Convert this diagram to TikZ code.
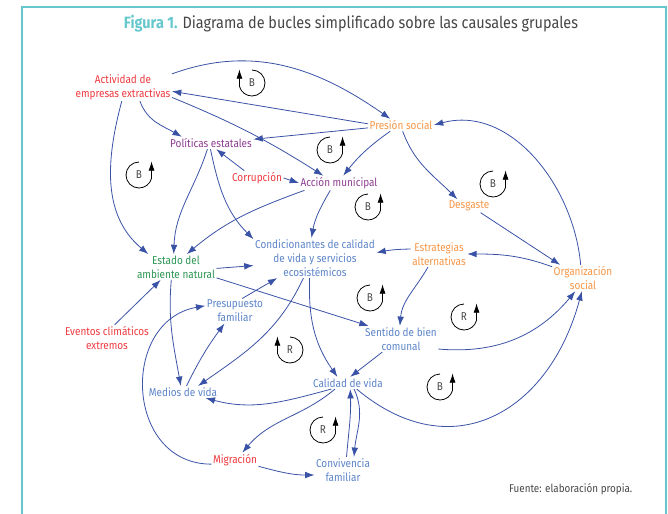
\documentclass[tikz,border=0pt]{standalone}
\usepackage{fontspec}
\setmainfont{Fira Sans}[FakeStretch=0.88]
\usetikzlibrary{arrows.meta}
\definecolor{turquoise}{RGB}{100,200,205}
\definecolor{rouge}{RGB}{238,58,64}
\definecolor{orangec}{RGB}{246,150,72}
\definecolor{violetc}{RGB}{142,62,146}
\definecolor{vert}{RGB}{44,150,84}
\definecolor{bleuc}{RGB}{92,132,200}
\definecolor{bleuf}{RGB}{58,82,166}
\definecolor{gris}{RGB}{70,70,70}
\tikzset{
  var/.style={inner sep=1pt,align=center,font=\fontsize{8.5}{10.5}\selectfont},
  fl/.style={draw=bleuf,line width=0.6pt,-{Latex[length=7pt,width=5pt]}},
  boucle/.style={line width=0.6pt,-{Latex[length=7pt,width=4.5pt]}}
}
% marqueur de boucle : position, lettre, sens (1 ou -1), nom
\newcommand{\bucle}[4]{%
  \begin{scope}[shift={#1},xscale=#3]
    \draw[boucle] (0,13) arc[start angle=90,end angle=345,radius=13] -- ++(0,17);
    \node[font=\fontsize{8.5}{8.5}\selectfont,text=gris] (#4) at (0,0) {#2};
  \end{scope}}
\begin{document}
\begin{tikzpicture}[x=0.75pt,y=0.75pt]
  \useasboundingbox (0,0) rectangle (668,-514);
  \draw[turquoise,line width=1.5pt] (22,-520) -- (22,-7) -- (666,-7) -- (666,-520);
  \node[font=\fontsize{12.3}{14}\selectfont] (titre) at (351,-24)
    {\textcolor{turquoise}{\bfseries Figura 1.} \textcolor{gris}{Diagrama de bucles simplificado sobre las causales grupales}};
  \node[font=\fontsize{8.4}{10}\selectfont,text=gris,anchor=east] (fuente) at (637,-489) {Fuente: elaboración propia.};
  % variables
  \node[var,text=rouge] (act) at (123,-87) {Actividad de\\empresas extractivas};
  \node[var,text=violetc] (pol) at (211,-143) {Políticas estatales};
  \node[var,text=orangec] (pres) at (401,-125) {Presión social};
  \node[var,text=rouge] (corr) at (257,-178) {Corrupción};
  \node[var,text=violetc] (acc) at (339,-183) {Acción municipal};
  \node[var,text=orangec] (desg) at (469,-206) {Desgaste};
  \node[var,text=vert] (estado) at (176,-267) {Estado del\\ambiente natural};
  \node[var,text=bleuc] (cond) at (315,-258) {Condicionantes de calidad\\de vida y servicios\\ecosistémicos};
  \node[var,text=orangec] (estr) at (439,-254) {Estrategias\\alternativas};
  \node[var,text=orangec] (org) at (583,-278) {Organización\\social};
  \node[var,text=bleuc] (presfam) at (235,-311) {Presupuesto\\familiar};
  \node[var,text=rouge] (event) at (107,-338) {Eventos climáticos\\extremos};
  \node[var,text=bleuc] (sent) at (401,-339) {Sentido de bien\\comunal};
  \node[var,text=bleuc] (medios) at (183,-392) {Medios de vida};
  \node[var,text=bleuc] (cal) at (348,-383) {Calidad de vida};
  \node[var,text=rouge] (migr) at (235,-460) {Migración};
  \node[var,text=bleuc] (conv) at (343,-470) {Convivencia\\familiar};
  % liens
  \draw[fl] (act.15) to[out=20,in=145] (pres.150);
  \draw[fl] (pres.178) -- (act.-5);
  \draw[fl] (act.-12) to[bend left=5] (acc.155);
  \draw[fl] (act.-40) to[out=-70,in=150] (pol.168);
  \draw[fl] (pres.185) -- (pol.5);
  \draw[fl] (pres.-150) to[bend right=8] (acc.60);
  \draw[fl] (pres.-75) to[out=-70,in=135] (desg.150);
  \draw[fl] (corr.150) -- (pol.-50);
  \draw[fl] (corr.east) -- (acc.west);
  \draw[fl] (act.-95) to[out=-105,in=140] (estado.155);
  \draw[fl] (pol.-120) to[out=-108,in=88] (estado.100);
  \draw[fl] (pol.-95) to[out=-78,in=135] (cond.163);
  \draw[fl] (acc.-168) to[out=-160,in=40] (estado.50);
  \draw[fl] (acc.-140) to[out=-120,in=80] (cond.100);
  \draw[fl] (estado.-2) -- (cond.-173);
  \draw[fl] (estado.-15) -- (sent.158);
  \draw[fl] (estr.170) to[bend right=5] (cond.5);
  \draw[fl] (org.160) to[out=160,in=0] (estr.east);
  \draw[fl] (desg.-30) -- (org.150);
  \draw[fl] (org.100) to[out=95,in=15] (pres.east);
  \draw[fl] (estr.-130) to[out=-120,in=85] (sent.95);
  \draw[fl] (sent.-15) to[out=-5,in=-130] (org.-120);
  \draw[fl] (sent.-145) -- (cal.70);
  \draw[fl] (cond.-120) to[out=-115,in=35] (medios.22);
  \draw[fl] (cond.-105) to[out=-92,in=125] (cal.150);
  \draw[fl] (estado.-110) to[out=-95,in=100] (medios.110);
  \draw[fl] (medios.60) to[bend left=5] (presfam.-130);
  \draw[fl] (presfam.60) -- (cond.-152);
  \draw[fl] (migr.-170) to[out=180,in=190,looseness=1.4] (presfam.170);
  \draw[fl] (cal.-160) to[out=-165,in=-15] (medios.-15);
  \draw[fl] (cal.-155) to[out=-140,in=50] (migr.45);
  \draw[fl] (migr.-15) to[out=-15,in=180] (conv.-170);
  \draw[fl] (conv.75) to[out=85,in=-88] (cal.-70);
  \draw[fl] (cal.-45) to[out=-65,in=85] (conv.50);
  \draw[fl] (cal.-35) to[out=-40,in=-105,looseness=1.3] (org.-95);
  \draw[fl] (event.60) -- (estado.-140);
  % boucles
  \bucle{(252,-83)}{B}{-1}{b1}
  \bucle{(139,-175)}{B}{1}{b2}
  \bucle{(330,-150)}{B}{1}{b3}
  \bucle{(368,-207)}{B}{1}{b4}
  \bucle{(493,-184)}{B}{1}{b5}
  \bucle{(370,-298)}{B}{1}{b6}
  \bucle{(464,-317)}{R}{1}{r1}
  \bucle{(290,-350)}{R}{-1}{r2}
  \bucle{(440,-387)}{B}{1}{b7}
  \bucle{(323,-430)}{R}{1}{r3}
\end{tikzpicture}
\end{document}
